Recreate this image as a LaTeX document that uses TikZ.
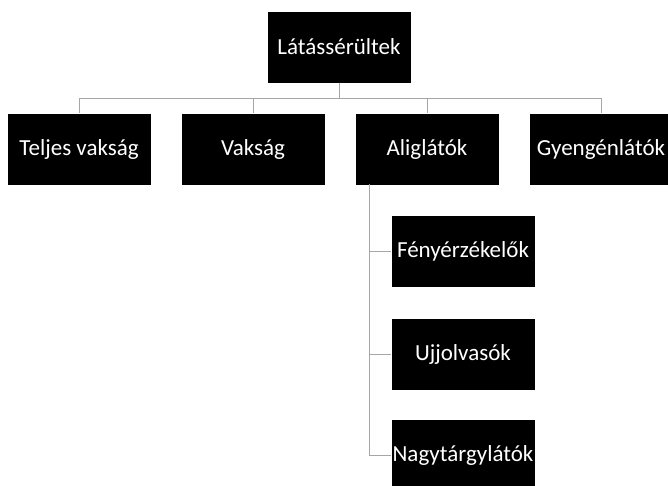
\documentclass[tikz,border=0pt]{standalone}
\usepackage{fontspec}
\setmainfont{Carlito}
\usepackage{xcolor}
\usepackage{tikz}
\definecolor{line}{HTML}{A6A6A6}
\tikzset{
  box/.style={fill=black, text=white, minimum width=143pt, minimum height=71pt, inner sep=0pt, font=\fontsize{23}{26}\selectfont},
  link/.style={draw=line, line width=0.9pt},
}
\begin{document}
\begin{tikzpicture}[x=1pt,y=-1pt]
  \clip (0,0) rectangle (668,485);
  \useasboundingbox (0,0) rectangle (668,485);
  \node[box] (top) at (339,47) {Látássérültek};
  \node[box] (tv) at (79,149) {Teljes vakság};
  \node[box] (va) at (253,149) {Vakság};
  \node[box] (al) at (427,149) {Aliglátók};
  \node[box] (gy) at (601,149) {Gyengénlátók};
  \node[box] (fe) at (463,251) {Fényérzékelők};
  \node[box] (uj) at (463,354) {Ujjolvasók};
  \node[box] (na) at (463,455) {Nagytárgylátók};
  \coordinate (trunk) at (369,184);
  \foreach \c in {tv,va,al,gy}
    \draw[link] (top.south) -- ++(0,16) -| (\c.north);
  \foreach \c in {fe,uj,na}
    \draw[link] (trunk) |- (\c.west);
\end{tikzpicture}
\end{document}
